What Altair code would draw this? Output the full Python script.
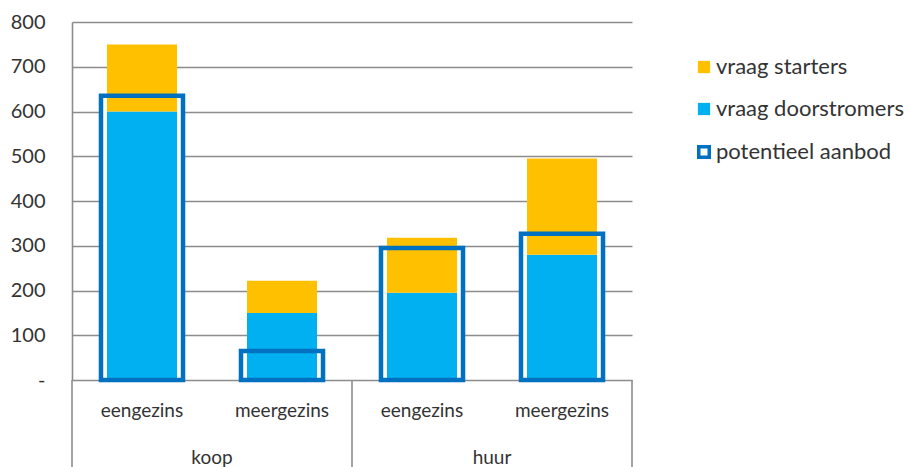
import altair as alt
import pandas as pd

# ---- data ----
types = ["eengezins", "meergezins", "eengezins", "meergezins"]
tenure = ["koop", "koop", "huur", "huur"]
doorstromers = [600, 150, 195, 280]
starters = [150, 72, 123, 215]
aanbod = [635, 65, 295, 327]
group_names = ["koop", "huur"]
y_ticks = [0, 100, 200, 300, 400, 500, 600, 700, 800]

FONT = "Lato"
TXT = "#333333"
GRID = "#8c8c8c"
ORANGE = "#FFC000"
LIGHTBLUE = "#00B0F0"
BLUE = "#0070C0"
FS = 19
LFS = 22

positions = [i + 0.5 for i in range(len(types))]

rows = []
for p, t, d, s in zip(positions, types, doorstromers, starters):
    rows.append({"pos": p, "type": t, "series": "vraag doorstromers", "lo": 0, "hi": d})
    rows.append({"pos": p, "type": t, "series": "vraag starters", "lo": d, "hi": d + s})
bars_df = pd.DataFrame(rows)

supply_df = pd.DataFrame({"pos": positions, "aanbod": aanbod,
                          "series": ["potentieel aanbod"] * len(aanbod)})
labels_df = pd.DataFrame({"pos": positions, "type": types})
groups_df = pd.DataFrame({"pos": [1, 3], "group": group_names})
sep_df = pd.DataFrame({"pos": [0, 2, 4]})

xs = alt.Scale(domain=[0, 4], nice=False, zero=False)
ys = alt.Scale(domain=[0, 800], nice=False)

yaxis = alt.Axis(values=y_ticks, grid=True, gridColor=GRID, gridWidth=1.6,
                 domainColor=GRID, domainWidth=1.6, ticks=False,
                 labelFont=FONT, labelFontSize=20, labelColor=TXT,
                 labelPadding=27, title=None,
                 labelExpr="datum.value == 0 ? '-\u2007' : datum.label")

base_x = alt.X("x0:Q", scale=xs, axis=None)

white = alt.Chart(supply_df).transform_calculate(
    x0="datum.pos - 0.293", x1="datum.pos + 0.293"
).mark_rect(fill="white").encode(
    x=base_x, x2="x1:Q",
    y=alt.Y("aanbod:Q", scale=ys, axis=yaxis), y2=alt.datum(0)
)

bars = alt.Chart(bars_df).transform_calculate(
    x0="datum.pos - 0.25", x1="datum.pos + 0.25"
).mark_rect().encode(
    x=base_x, x2="x1:Q",
    y=alt.Y("lo:Q", scale=ys), y2="hi:Q",
    fill=alt.Fill("series:N",
                  scale=alt.Scale(domain=["vraag starters", "vraag doorstromers"],
                                  range=[ORANGE, LIGHTBLUE]),
                  legend=alt.Legend(orient="none", legendX=621, legendY=34, title=None,
                                    symbolType="square", symbolSize=150,
                                    labelFont=FONT, labelFontSize=LFS, labelColor=TXT,
                                    labelOffset=1, rowPadding=20, padding=0,
                                    labelLimit=300, symbolStrokeWidth=0))
)

outline = alt.Chart(supply_df).transform_calculate(
    x0="datum.pos - 0.293", x1="datum.pos + 0.293"
).mark_rect(fill="white", fillOpacity=0, strokeWidth=4.5).encode(
    x=base_x, x2="x1:Q",
    y=alt.Y("aanbod:Q", scale=ys), y2=alt.datum(0),
    stroke=alt.Stroke("series:N",
                      scale=alt.Scale(domain=["potentieel aanbod"], range=[BLUE]),
                      legend=alt.Legend(orient="none", legendX=621, legendY=119, title=None,
                                        symbolType="square", symbolSize=110,
                                        symbolStrokeWidth=3.5, symbolFillColor="white",
                                        labelFont=FONT, labelFontSize=LFS, labelColor=TXT,
                                        labelOffset=1, padding=0, labelLimit=300))
)

seps = alt.Chart(sep_df).mark_rule(color=GRID, strokeWidth=1.6).encode(
    x=alt.X("pos:Q", scale=xs, axis=None),
    y=alt.value(358), y2=alt.value(445)
)

sub_labels = alt.Chart(labels_df).mark_text(
    font=FONT, fontSize=FS, color=TXT, baseline="middle"
).encode(
    x=alt.X("pos:Q", scale=xs, axis=None), y=alt.value(389), text="type:N"
)

group_labels = alt.Chart(groups_df).mark_text(
    font=FONT, fontSize=FS, color=TXT, baseline="middle"
).encode(
    x=alt.X("pos:Q", scale=xs, axis=None), y=alt.value(436), text="group:N"
)

chart = alt.layer(white, bars, outline, seps, sub_labels, group_labels).resolve_legend(
    fill="independent", stroke="independent"
).properties(
    width=560, height=358,
    padding={"left": 72, "top": 22, "right": 272, "bottom": 87},
    autosize=alt.AutoSizeParams(type="none"),
    background="white",
).configure_view(strokeWidth=0)

chart.save("out.html", embed_options={"renderer": "svg", "actions": False})
